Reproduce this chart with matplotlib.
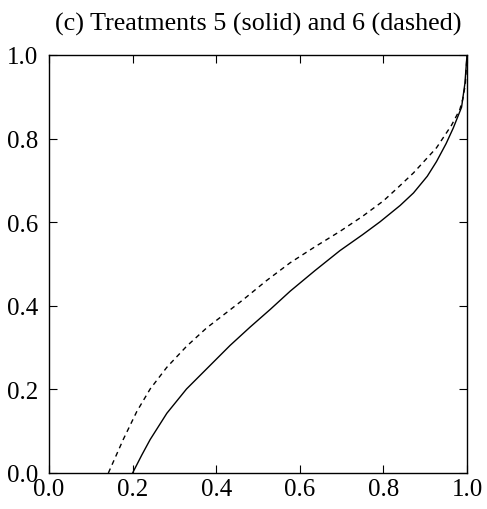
import numpy as np
import matplotlib.pyplot as plt

# --- data ---
solid_x = [0.200, 0.222, 0.242, 0.282, 0.329, 0.385, 0.433, 0.481, 0.530,
           0.577, 0.636, 0.696, 0.750, 0.792, 0.840, 0.872, 0.905, 0.927,
           0.950, 0.967, 0.987, 0.995, 1.000]
solid_y = [0.000, 0.043, 0.080, 0.143, 0.201, 0.257, 0.305, 0.349, 0.392,
           0.435, 0.484, 0.532, 0.570, 0.601, 0.640, 0.670, 0.710, 0.745,
           0.788, 0.825, 0.875, 0.932, 1.000]

dashed_x = [0.142, 0.178, 0.210, 0.242, 0.282, 0.329, 0.377, 0.425, 0.465,
            0.520, 0.577, 0.636, 0.696, 0.750, 0.800, 0.836, 0.872, 0.927,
            0.963, 0.983, 0.990, 0.996, 1.000]
dashed_y = [0.000, 0.081, 0.147, 0.201, 0.253, 0.303, 0.347, 0.384, 0.415,
            0.460, 0.503, 0.541, 0.578, 0.614, 0.651, 0.684, 0.718, 0.778,
            0.832, 0.870, 0.895, 0.930, 1.000]

ticks = [0.0, 0.2, 0.4, 0.6, 0.8, 1.0]
tick_labels = ['0.0', '0.2', '0.4', '0.6', '0.8', '1.0']

plt.rcParams['font.family'] = ['Liberation Serif', 'DejaVu Serif']

fig = plt.figure(figsize=(4.87, 5.10), dpi=100)
ax = fig.add_axes([49 / 487, 36 / 510, 418 / 487, 418 / 510])

ax.plot(solid_x, solid_y, color='black', linewidth=1.0)
ax.plot(dashed_x, dashed_y, color='black', linewidth=1.0, linestyle=(0, (3.5, 3)))

ax.set_xlim(0, 1)
ax.set_ylim(0, 1)
ax.set_xticks(ticks)
ax.set_yticks(ticks)
ax.set_xticklabels(tick_labels)
ax.set_yticklabels(tick_labels)
ax.tick_params(direction='in', length=6, width=0.8, top=True, right=True,
               labelsize=18)
ax.tick_params(axis='x', pad=3.5)
ax.tick_params(axis='y', pad=7.5)
for s in ax.spines.values():
    s.set_linewidth(1.0)

ax.set_title('(c) Treatments 5 (solid) and 6 (dashed)', fontsize=18.8, pad=18)

fig.savefig('out.png', dpi=100)
